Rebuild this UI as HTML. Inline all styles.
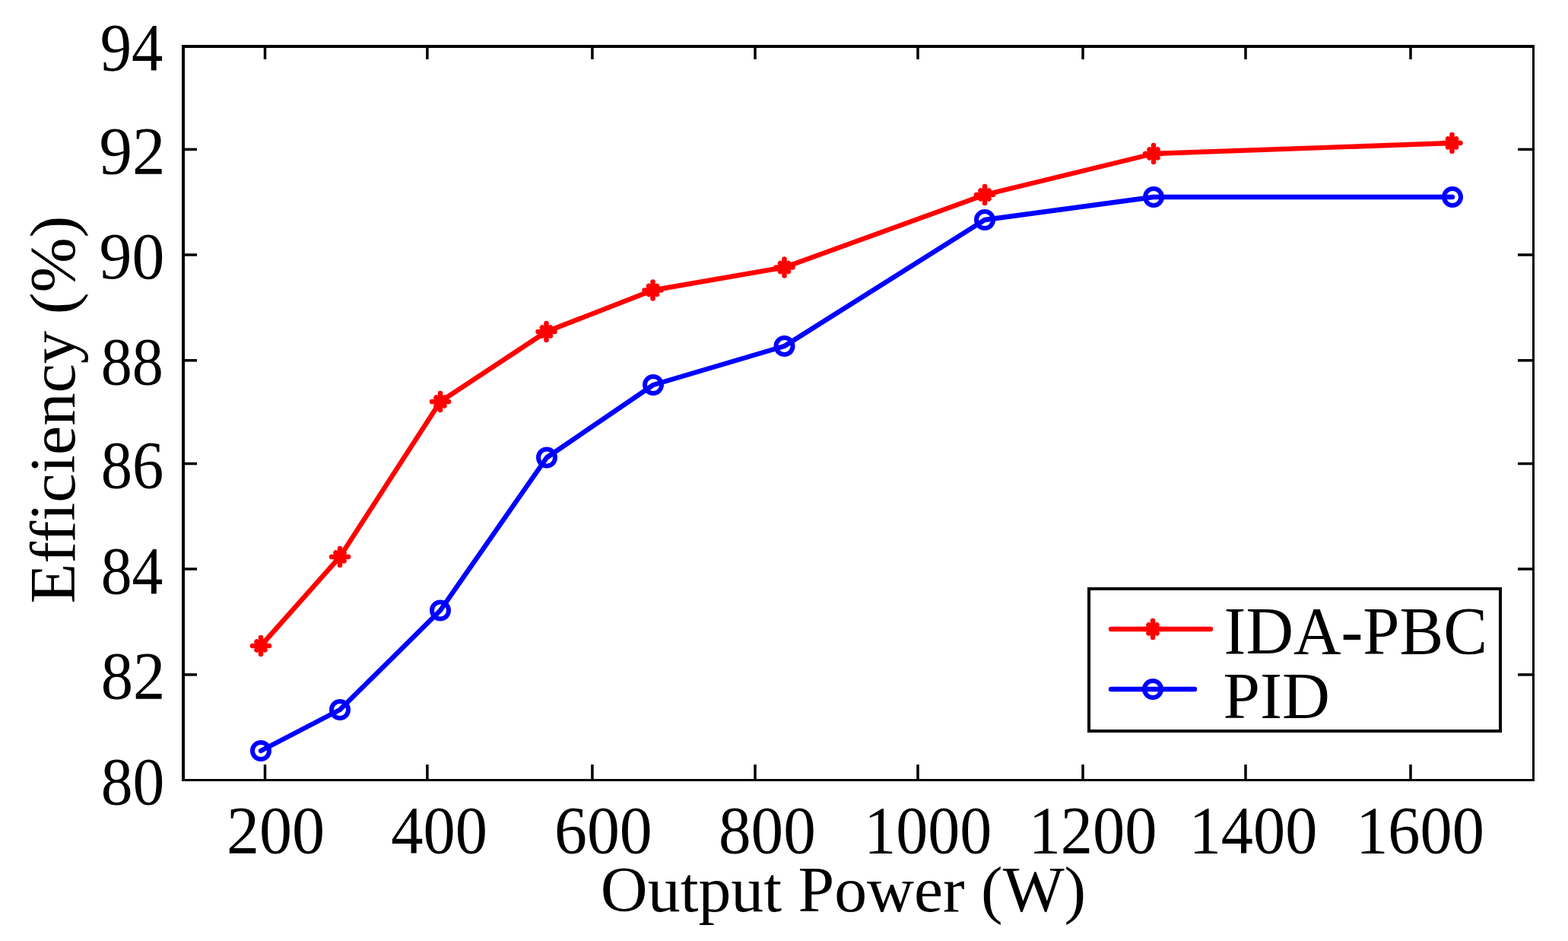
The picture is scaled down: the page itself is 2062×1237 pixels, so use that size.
<!DOCTYPE html>
<html><head><meta charset="utf-8"><title>Efficiency vs Output Power</title>
<style>
html,body{margin:0;padding:0;background:#fff;overflow:hidden}
svg{display:block}
text{font-family:"Liberation Serif", "Times New Roman", Times, serif;fill:#000}
</style></head>
<body>
<svg width="2062" height="1237" viewBox="0 0 2062 1237">
<rect width="2062" height="1237" fill="#fff"/>
<rect x="239" y="59" width="4" height="968" fill="#000"/>
<rect x="239" y="59" width="1779" height="4" fill="#000"/>
<rect x="2015" y="59" width="3" height="968" fill="#000"/>
<rect x="239" y="1024" width="1779" height="3" fill="#000"/>
<rect x="346.75" y="1005" width="3.5" height="19" fill="#000"/>
<rect x="346.75" y="63" width="3.5" height="15" fill="#000"/>
<rect x="560.15" y="1005" width="3.5" height="19" fill="#000"/>
<rect x="560.15" y="63" width="3.5" height="15" fill="#000"/>
<rect x="777.15" y="1005" width="3.5" height="19" fill="#000"/>
<rect x="777.15" y="63" width="3.5" height="15" fill="#000"/>
<rect x="991.25" y="1005" width="3.5" height="19" fill="#000"/>
<rect x="991.25" y="63" width="3.5" height="15" fill="#000"/>
<rect x="1205.25" y="1005" width="3.5" height="19" fill="#000"/>
<rect x="1205.25" y="63" width="3.5" height="15" fill="#000"/>
<rect x="1422.25" y="1005" width="3.5" height="19" fill="#000"/>
<rect x="1422.25" y="63" width="3.5" height="15" fill="#000"/>
<rect x="1636.25" y="1005" width="3.5" height="19" fill="#000"/>
<rect x="1636.25" y="63" width="3.5" height="15" fill="#000"/>
<rect x="1853.25" y="1005" width="3.5" height="19" fill="#000"/>
<rect x="1853.25" y="63" width="3.5" height="15" fill="#000"/>
<rect x="243" y="194.65" width="16" height="3.5" fill="#000"/>
<rect x="1996" y="194.65" width="19" height="3.5" fill="#000"/>
<rect x="243" y="333.25" width="16" height="3.5" fill="#000"/>
<rect x="1996" y="333.25" width="19" height="3.5" fill="#000"/>
<rect x="243" y="472.05" width="16" height="3.5" fill="#000"/>
<rect x="1996" y="472.05" width="19" height="3.5" fill="#000"/>
<rect x="243" y="607.75" width="16" height="3.5" fill="#000"/>
<rect x="1996" y="607.75" width="19" height="3.5" fill="#000"/>
<rect x="243" y="746.25" width="16" height="3.5" fill="#000"/>
<rect x="1996" y="746.25" width="19" height="3.5" fill="#000"/>
<rect x="243" y="885.15" width="16" height="3.5" fill="#000"/>
<rect x="1996" y="885.15" width="19" height="3.5" fill="#000"/>
<polyline points="343,849 447,732 579,528 718.5,436 858.5,381.5 1031.5,351.5 1295,256 1517,202 1909.5,188" fill="none" stroke="#f00" stroke-width="6.4" stroke-linejoin="round" stroke-linecap="round"/>
<path d="M332,849H354M343,838V860M337.5,843.5L348.5,854.5M337.5,854.5L348.5,843.5" stroke="#f00" stroke-width="6.5" stroke-linecap="round" fill="none"/>
<path d="M436,732H458M447,721V743M441.5,726.5L452.5,737.5M441.5,737.5L452.5,726.5" stroke="#f00" stroke-width="6.5" stroke-linecap="round" fill="none"/>
<path d="M568,528H590M579,517V539M573.5,522.5L584.5,533.5M573.5,533.5L584.5,522.5" stroke="#f00" stroke-width="6.5" stroke-linecap="round" fill="none"/>
<path d="M707.5,436H729.5M718.5,425V447M713.0,430.5L724.0,441.5M713.0,441.5L724.0,430.5" stroke="#f00" stroke-width="6.5" stroke-linecap="round" fill="none"/>
<path d="M847.5,381.5H869.5M858.5,370.5V392.5M853.0,376.0L864.0,387.0M853.0,387.0L864.0,376.0" stroke="#f00" stroke-width="6.5" stroke-linecap="round" fill="none"/>
<path d="M1020.5,351.5H1042.5M1031.5,340.5V362.5M1026.0,346.0L1037.0,357.0M1026.0,357.0L1037.0,346.0" stroke="#f00" stroke-width="6.5" stroke-linecap="round" fill="none"/>
<path d="M1284,256H1306M1295,245V267M1289.5,250.5L1300.5,261.5M1289.5,261.5L1300.5,250.5" stroke="#f00" stroke-width="6.5" stroke-linecap="round" fill="none"/>
<path d="M1506,202H1528M1517,191V213M1511.5,196.5L1522.5,207.5M1511.5,207.5L1522.5,196.5" stroke="#f00" stroke-width="6.5" stroke-linecap="round" fill="none"/>
<path d="M1898.5,188H1920.5M1909.5,177V199M1904.0,182.5L1915.0,193.5M1904.0,193.5L1915.0,182.5" stroke="#f00" stroke-width="6.5" stroke-linecap="round" fill="none"/>
<polyline points="343,987 447,933 579,802.5 719,601.5 859,506 1031.5,455 1295,289 1517,259 1910,259" fill="none" stroke="#00f" stroke-width="6.4" stroke-linejoin="round" stroke-linecap="round"/>
<circle cx="343" cy="987" r="11" stroke="#00f" stroke-width="6" fill="none"/>
<circle cx="447" cy="933" r="11" stroke="#00f" stroke-width="6" fill="none"/>
<circle cx="579" cy="802.5" r="11" stroke="#00f" stroke-width="6" fill="none"/>
<circle cx="719" cy="601.5" r="11" stroke="#00f" stroke-width="6" fill="none"/>
<circle cx="859" cy="506" r="11" stroke="#00f" stroke-width="6" fill="none"/>
<circle cx="1031.5" cy="455" r="11" stroke="#00f" stroke-width="6" fill="none"/>
<circle cx="1295" cy="289" r="11" stroke="#00f" stroke-width="6" fill="none"/>
<circle cx="1517" cy="259" r="11" stroke="#00f" stroke-width="6" fill="none"/>
<circle cx="1910" cy="259" r="11" stroke="#00f" stroke-width="6" fill="none"/>
<rect x="1430" y="772" width="545" height="191" fill="#000"/>
<rect x="1434" y="776" width="537" height="183" fill="#fff"/>
<line x1="1461" y1="827" x2="1592" y2="827" stroke="#f00" stroke-width="6.4" stroke-linecap="round"/>
<path d="M1505,827H1527M1516,816V838M1510.5,821.5L1521.5,832.5M1510.5,832.5L1521.5,821.5" stroke="#f00" stroke-width="6.5" stroke-linecap="round" fill="none"/>
<line x1="1461" y1="906" x2="1571" y2="906" stroke="#00f" stroke-width="6.4" stroke-linecap="round"/>
<circle cx="1516" cy="906" r="11" stroke="#00f" stroke-width="6" fill="none"/>
<text transform="translate(131.71,92.47) scale(0.9610,1.0351)" font-size="86">94</text>
<text transform="translate(130.57,228.47) scale(1.0103,1.0351)" font-size="86">92</text>
<text transform="translate(130.61,365.50) scale(0.9975,1.0175)" font-size="86">90</text>
<text transform="translate(132.73,505.46) scale(0.9550,1.0348)" font-size="86">88</text>
<text transform="translate(132.72,641.46) scale(0.9601,1.0348)" font-size="86">86</text>
<text transform="translate(132.75,780.46) scale(0.9488,1.0348)" font-size="86">84</text>
<text transform="translate(132.65,918.46) scale(0.9847,1.0348)" font-size="86">82</text>
<text transform="translate(132.68,1057.46) scale(0.9725,1.0348)" font-size="86">80</text>
<text transform="translate(297.98,1121.17) scale(1.0018,1.0278)" font-size="86">200</text>
<text transform="translate(514.28,1121.17) scale(0.9823,1.0278)" font-size="86">400</text>
<text transform="translate(729.01,1121.17) scale(0.9984,1.0278)" font-size="86">600</text>
<text transform="translate(945.03,1121.17) scale(0.9902,1.0278)" font-size="86">800</text>
<text transform="translate(1136.16,1121.17) scale(0.9776,1.0278)" font-size="86">1000</text>
<text transform="translate(1352.65,1121.17) scale(0.9814,1.0278)" font-size="86">1200</text>
<text transform="translate(1563.65,1121.17) scale(0.9814,1.0278)" font-size="86">1400</text>
<text transform="translate(1783.15,1121.17) scale(0.9814,1.0278)" font-size="86">1600</text>
<text transform="translate(1609.58,859.16) scale(1.0071,1.0453)" font-size="86">IDA-PBC</text>
<text transform="translate(1608.56,943.80) scale(1.0136,1.0070)" font-size="86">PID</text>
<text transform="translate(789.81,1197.76) scale(0.9975,0.9927)" font-size="86">Output Power (W)</text>
<text transform="translate(97.78,793.62) rotate(-90) scale(1.0060,0.9755)" font-size="86">Efficiency (%)</text>
</svg>
</body></html>
